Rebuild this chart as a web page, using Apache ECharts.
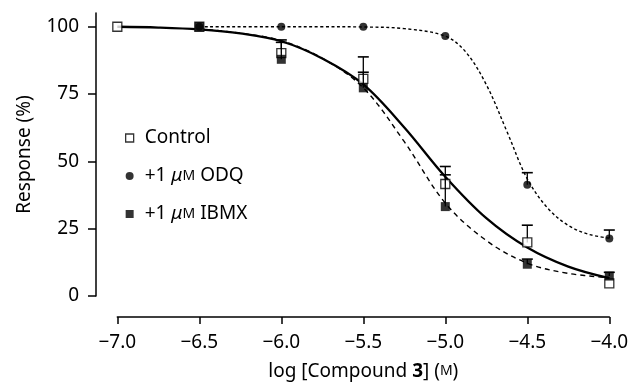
<!DOCTYPE html>
<html><head><meta charset="utf-8">
<script src="https://cdn.jsdelivr.net/npm/echarts@6/dist/echarts.min.js"></script>
<style>html,body{margin:0;padding:0;background:#fff}#c{width:632px;height:382px}</style>
</head><body><div id="c"></div>
<script>
// ---- data ----
const xTickValues = [-7.0, -6.5, -6.0, -5.5, -5.0, -4.5, -4.0];
const xTickLabels = ['\u22127.0', '\u22126.5', '\u22126.0', '\u22125.5', '\u22125.0', '\u22124.5', '\u22124.0'];
const yTickValues = [0, 25, 50, 75, 100];
const yTickLabels = ['0', '25', '50', '75', '100'];

const seriesNames = ['Control', '+1 \u03bcM ODQ', '+1 \u03bcM IBMX'];

const controlX = [-7.0, -6.5, -6.0, -5.5, -5.0, -4.5, -4.0];
const controlY = [100, 100, 90.2, 80.6, 41.6, 19.9, 4.7];
const controlErrTop = [null, null, 95.1, 88.8, 48.1, 26.3, null];

const odqX = [-6.5, -6.0, -5.5, -5.0, -4.5, -4.0];
const odqY = [100, 100, 100, 96.6, 41.3, 21.4];
const odqErrTop = [null, null, null, null, 45.8, 24.5];

const ibmxX = [-6.5, -6.0, -5.5, -5.0, -4.5, -4.0];
const ibmxY = [100, 87.9, 77.3, 33.2, 11.8, 7.4];
const ibmxErrTop = [null, 94.2, 83.1, 45.0, 13.7, 8.8];

// fitted curves
const controlCurveX = [-7.0, -6.75, -6.5, -6.25, -6.0, -5.75, -5.5, -5.25, -5.0, -4.75, -4.5, -4.25, -4.0];
const controlCurveY = [100, 99.7, 99.0, 97.5, 94.6, 88.2, 78.6, 62.6, 44.3, 28.9, 18.0, 10.9, 6.6];

const ibmxCurveX = [-6.5, -6.25, -6.0, -5.75, -5.5, -5.25, -5.0, -4.75, -4.5, -4.25, -4.0];
const ibmxCurveY = [99.2, 97.6, 94.8, 88.3, 77.3, 57.3, 34.5, 20.6, 12.2, 8.4, 6.8];

const odqCurveX = [-6.5, -6.0, -5.75, -5.5, -5.25, -5.0, -4.875, -4.75, -4.625, -4.5, -4.375, -4.25, -4.125, -4.0];
const odqCurveY = [100, 100, 100, 99.9, 99.3, 96.5, 90.6, 78.5, 61.2, 43.5, 32.6, 26.2, 22.9, 21.5];

// ---- chart ----
const FONT = 'Noto Sans';
const zip = (xs, ys) => xs.map((x, i) => [x, ys[i]]);

function errSeries(xs, ys, tops, z) {
  const data = [];
  xs.forEach((x, i) => { if (tops[i] != null) data.push([x, ys[i], tops[i]]); });
  return {
    type: 'custom', xAxisIndex: 0, yAxisIndex: 0, z: z, silent: true, clip: false,
    encode: { x: 0, y: [1, 2] },
    renderItem: (params, api) => {
      const p0 = api.coord([api.value(0), api.value(1)]);
      const p1 = api.coord([api.value(0), api.value(2)]);
      return {
        type: 'group', children: [
          { type: 'line', shape: { x1: p0[0], y1: p0[1], x2: p1[0], y2: p1[1] }, style: { stroke: '#000', lineWidth: 1.3 } },
          { type: 'line', shape: { x1: p1[0] - 5.5, y1: p1[1], x2: p1[0] + 5.5, y2: p1[1] }, style: { stroke: '#000', lineWidth: 1.6 } }
        ]
      };
    },
    data: data
  };
}

const richName = s => s.replace('\u03bcM', '{mu|\u03bc}{sc|M}');

const chart = echarts.init(document.getElementById('c'), null, { renderer: 'canvas' });
chart.setOption({
  animation: false,
  backgroundColor: '#fff',
  textStyle: { fontFamily: FONT, color: '#000' },
  grid: [
    { left: 96, right: 22.7, top: 13, bottom: 86 },
    { left: 117.3, right: 22.7, top: 296, bottom: 65 }
  ],
  xAxis: [
    { gridIndex: 0, type: 'value', min: -7.13, max: -4.0, show: false },
    {
      gridIndex: 1, type: 'value', min: -7.0, max: -4.0, interval: 0.5, position: 'bottom',
      axisLine: { show: true, lineStyle: { color: '#000', width: 1.5 } },
      axisTick: { show: true, length: 7, lineStyle: { color: '#000', width: 1.5 } },
      axisLabel: {
        margin: 16, fontSize: 19, fontFamily: FONT, color: '#000',
        formatter: v => { const i = xTickValues.findIndex(t => Math.abs(t - v) < 1e-6); return i >= 0 ? xTickLabels[i] : ''; }
      },
      splitLine: { show: false },
      name: '{n|log [Compound }{b|3}{n|] (}{sc|M}{n|)}',
      nameLocation: 'middle', nameGap: 45,
      nameTextStyle: {
        fontFamily: FONT, color: '#000',
        rich: {
          n: { fontSize: 19, fontFamily: FONT, color: '#000' },
          b: { fontSize: 19, fontFamily: FONT, fontWeight: 'bold', color: '#000' },
          sc: { fontSize: 14, fontFamily: FONT, color: '#000' }
        }
      }
    }
  ],
  yAxis: [
    {
      gridIndex: 0, type: 'value', min: 0, max: 105.1, position: 'left',
      axisLine: { show: true, lineStyle: { color: '#000', width: 1.5 } },
      axisTick: { show: true, length: 8, customValues: yTickValues, lineStyle: { color: '#000', width: 1.5 } },
      axisLabel: {
        margin: 17, fontSize: 19, fontFamily: FONT, color: '#000', customValues: yTickValues,
        formatter: v => { const i = yTickValues.indexOf(v); return i >= 0 ? yTickLabels[i] : ''; }
      },
      splitLine: { show: false },
      name: 'Response (%)', nameLocation: 'middle', nameGap: 62,
      nameTextStyle: { fontSize: 19, fontFamily: FONT, color: '#000' }
    },
    { gridIndex: 1, type: 'value', show: false }
  ],
  legend: {
    orient: 'vertical', left: 125, top: 127, padding: 0, itemWidth: 8, itemHeight: 8, itemGap: 16,
    selectedMode: false,
    formatter: richName,
    textStyle: {
      fontSize: 19, fontFamily: FONT, color: '#000', lineHeight: 22, padding: [0, 0, 0, 6],
      rich: {
        mu: { fontSize: 19, fontStyle: 'italic', fontFamily: FONT, color: '#000' },
        sc: { fontSize: 14, fontFamily: FONT, color: '#000' }
      }
    },
    data: [
      { name: seriesNames[0], icon: 'rect', itemStyle: { color: '#fff', borderColor: '#000', borderWidth: 1.3 } },
      { name: seriesNames[1], icon: 'circle', itemStyle: { color: '#000', borderWidth: 0 } },
      { name: seriesNames[2], icon: 'rect', itemStyle: { color: '#000', borderWidth: 0 } }
    ]
  },
  series: [
    { type: 'line', name: 'ctrlFit', data: zip(controlCurveX, controlCurveY), smooth: 0.35, showSymbol: false, z: 2, silent: true,
      lineStyle: { color: '#000', width: 2.3 } },
    { type: 'line', name: 'ibmxFit', data: zip(ibmxCurveX, ibmxCurveY), smooth: 0.35, showSymbol: false, z: 2, silent: true,
      lineStyle: { color: '#000', width: 1.4, type: [5, 4] } },
    { type: 'line', name: 'odqFit', data: zip(odqCurveX, odqCurveY), smooth: 0.35, showSymbol: false, z: 2, silent: true,
      lineStyle: { color: '#000', width: 1.4, type: [3, 2.5] } },
    errSeries(controlX, controlY, controlErrTop, 3),
    { type: 'scatter', name: seriesNames[0], data: zip(controlX, controlY), symbol: 'rect', symbolSize: 9, z: 4, clip: false,
      itemStyle: { color: '#fff', borderColor: '#000', borderWidth: 1.3 } },
    errSeries(ibmxX, ibmxY, ibmxErrTop, 5),
    { type: 'scatter', name: seriesNames[2], data: zip(ibmxX, ibmxY), symbol: 'rect', symbolSize: 9, z: 6, clip: false,
      itemStyle: { color: '#000' } },
    errSeries(odqX, odqY, odqErrTop, 7),
    { type: 'scatter', name: seriesNames[1], data: zip(odqX, odqY), symbol: 'circle', symbolSize: 8, z: 8, clip: false,
      itemStyle: { color: '#000' } }
  ]
});
</script></body></html>
